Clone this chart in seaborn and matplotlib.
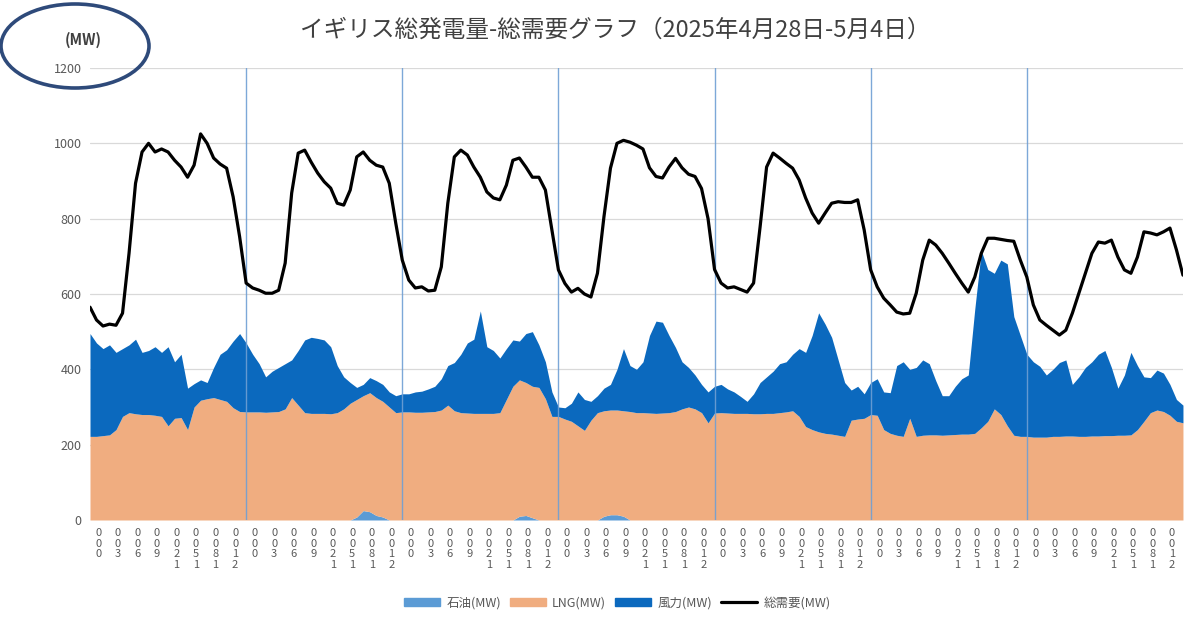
"""
UK generation vs total demand, 2025-04-28 .. 2025-05-04 (hourly).
Stacked areas for oil / LNG / wind, black line for total demand.
"""

import numpy as np
import pandas as pd
import matplotlib
matplotlib.use('Agg')
import matplotlib.pyplot as plt
from matplotlib.patches import Ellipse, Patch
from matplotlib.lines import Line2D
import seaborn as sns

TITLE = 'イギリス総発電量-総需要グラフ（2025年4月28日-5月4日）'
UNIT = '(MW)'

# hourly values, one row per day (00:00 .. 23:00), last row also has 5/5 00:00
demand = [
    565, 531, 515, 520, 517, 549, 708, 894, 977, 1000, 977, 985, 977, 955, 937, 910, 942, 1025, 1000, 961, 945, 934, 858, 752,
    629, 616, 610, 602, 602, 610, 682, 868, 974, 982, 950, 921, 898, 881, 841, 836, 876, 964, 977, 955, 942, 937, 894, 788,
    690, 637, 616, 619, 608, 610, 672, 841, 964, 982, 969, 937, 910, 871, 855, 850, 889, 955, 961, 937, 910, 910, 876, 770,
    664, 628, 605, 615, 600, 592, 655, 805, 934, 1000, 1008, 1003, 995, 985, 935, 912, 908, 937, 960, 935, 918, 912, 880, 800,
    665, 629, 616, 619, 612, 605, 629, 778, 937, 974, 961, 947, 934, 903, 855, 815, 788, 815, 841, 845, 843, 843, 850, 770,
    664, 619, 589, 571, 552, 547, 549, 602, 690, 743, 730, 708, 682, 655, 629, 605, 645, 708, 748, 748, 745, 742, 740, 690,
    645, 571, 531, 517, 504, 491, 504, 549, 602, 655, 708, 738, 735, 743, 698, 664, 655, 698, 765, 762, 757, 765, 775, 717, 650,
]

oil = [
    0, 0, 0, 0, 0, 0, 0, 0, 0, 0, 0, 0, 0, 0, 0, 0, 0, 0, 0, 0, 0, 0, 0, 0,
    0, 0, 0, 0, 0, 0, 0, 0, 0, 0, 0, 0, 0, 0, 0, 0, 0, 8, 25, 22, 12, 8, 0, 0,
    0, 0, 0, 0, 0, 0, 0, 0, 0, 0, 0, 0, 0, 0, 0, 0, 0, 0, 10, 12, 6, 0, 0, 0,
    0, 0, 0, 0, 0, 0, 0, 10, 14, 14, 10, 0, 0, 0, 0, 0, 0, 0, 0, 0, 0, 0, 0, 0,
    0, 0, 0, 0, 0, 0, 0, 0, 0, 0, 0, 0, 0, 0, 0, 0, 0, 0, 0, 0, 0, 0, 0, 0,
    0, 0, 0, 0, 0, 0, 0, 0, 0, 0, 0, 0, 0, 0, 0, 0, 0, 0, 0, 0, 0, 0, 0, 0,
    0, 0, 0, 0, 0, 0, 0, 0, 0, 0, 0, 0, 0, 0, 0, 0, 0, 0, 0, 0, 0, 0, 0, 0, 0,
]

lng = [
    222, 222, 224, 226, 240, 275, 285, 282, 280, 280, 278, 275, 250, 270, 272, 240, 300, 318, 322, 325, 320, 315, 298, 288,
    287, 287, 287, 286, 287, 288, 295, 325, 305, 285, 283, 283, 283, 282, 285, 295, 310, 312, 305, 316, 313, 307, 300, 285,
    287, 287, 286, 286, 287, 288, 292, 305, 290, 285, 284, 283, 283, 283, 283, 285, 320, 355, 362, 353, 349, 352, 322, 275,
    275, 268, 262, 250, 238, 265, 285, 280, 278, 278, 280, 288, 285, 285, 284, 283, 284, 285, 288, 295, 300, 295, 285, 258,
    284, 285, 284, 283, 283, 283, 282, 282, 283, 283, 285, 287, 290, 275, 248, 240, 234, 230, 228, 225, 222, 265, 268, 270,
    280, 278, 240, 230, 225, 222, 270, 222, 225, 226, 226, 225, 226, 227, 228, 228, 230, 245, 262, 295, 280, 250, 225, 222,
    222, 220, 220, 220, 222, 222, 223, 223, 222, 222, 223, 223, 224, 224, 225, 225, 226, 240, 262, 285, 292, 288, 278, 262, 258,
]

wind = [
    273, 248, 231, 239, 205, 180, 180, 198, 165, 170, 182, 170, 210, 150, 168, 110, 62, 54, 43, 80, 120, 137, 177, 207,
    183, 153, 128, 94, 108, 117, 120, 100, 145, 193, 202, 199, 195, 178, 125, 85, 55, 32, 30, 40, 45, 45, 40, 45,
    48, 48, 54, 56, 61, 67, 83, 105, 128, 155, 186, 197, 272, 177, 167, 145, 135, 123, 103, 130, 145, 113, 98, 65,
    25, 30, 48, 90, 82, 50, 45, 60, 68, 108, 165, 122, 115, 135, 206, 245, 241, 205, 170, 125, 105, 90, 75, 82,
    71, 75, 64, 57, 45, 32, 53, 83, 97, 112, 130, 133, 150, 180, 197, 250, 316, 290, 257, 200, 143, 80, 87, 65,
    85, 97, 100, 108, 185, 198, 130, 183, 200, 189, 144, 105, 104, 128, 147, 157, 330, 470, 403, 360, 410, 430, 315, 268,
    218, 200, 188, 165, 178, 196, 202, 137, 158, 183, 197, 217, 226, 181, 125, 160, 219, 170, 118, 93, 106, 102, 82, 58, 47,
]

n_days = 7
label_hours = [0, 3, 6, 9, 12, 15, 18, 21]
series_names = ['石油(MW)', 'LNG(MW)', '風力(MW)', '総需要(MW)']
y_ticks = [0, 200, 400, 600, 800, 1000, 1200]

COLORS = {'oil': '#5B9BD5', 'lng': '#F0AD80', 'wind': '#0B69BE', 'demand': 'black'}
GRAY = '#595959'


def stacked_label(hour):
    # labels read bottom-to-top, one character per row (e.g. 1200 -> 0/0/2/1)
    return '\n'.join(reversed(f'{hour}00'))


def main():
    sns.set_theme(style='white')
    plt.rcParams['font.family'] = ['Noto Sans CJK JP', 'DejaVu Sans']

    df = pd.DataFrame({'demand': demand, 'oil': oil, 'lng': lng, 'wind': wind})
    df['hour'] = np.arange(len(df))

    fig = plt.figure(figsize=(12, 6.29), dpi=100)
    ax = fig.add_axes([0.075, 0.1733, 0.9108, 0.7186])

    ax.stackplot(df['hour'], df['oil'], df['lng'], df['wind'],
                 colors=[COLORS['oil'], COLORS['lng'], COLORS['wind']],
                 linewidth=0, zorder=2)

    # day separators
    for d in range(1, n_days):
        ax.axvline(d * 24, color='#6F9FD4', linewidth=1.0, alpha=0.9, zorder=3)

    sns.lineplot(data=df, x='hour', y='demand', color=COLORS['demand'],
                 linewidth=2.3, ax=ax, legend=False, zorder=4)

    ax.set_xlim(0, 24 * n_days)
    ax.set_ylim(0, 1200)
    ax.set_yticks(y_ticks)
    ax.set_yticklabels([str(v) for v in y_ticks], fontsize=9, color=GRAY)
    ax.yaxis.grid(True, color='#D9D9D9', linewidth=0.9, zorder=0)
    ax.set_axisbelow(True)

    xt, xl = [], []
    for d in range(n_days):
        for h in label_hours:
            xt.append(d * 24 + h + 1.3)
            xl.append(stacked_label(h))
    ax.set_xticks(xt)
    ax.set_xticklabels(xl, fontsize=8, color=GRAY, va='top')
    for lbl in ax.get_xticklabels():
        lbl.set_linespacing(1.05)

    ax.tick_params(axis='both', length=0)
    ax.tick_params(axis='x', pad=6)
    ax.tick_params(axis='y', pad=6)
    ax.set_xlabel('')
    ax.set_ylabel('')
    for s in ax.spines.values():
        s.set_visible(False)

    fig.text(0.5125, 1 - 30 / 629, TITLE, ha='center', va='center',
             fontsize=17, color='#404040')
    fig.text(83 / 1200, 1 - 40 / 629, UNIT, ha='center', va='center',
             fontsize=10.5, fontweight='bold', color='#404040')
    fig.add_artist(Ellipse((75 / 1200, 1 - 46 / 629), 148 / 1200, 84 / 629,
                           transform=fig.transFigure, fill=False,
                           edgecolor='#2E4A7A', linewidth=2.6))

    handles = [Patch(color=COLORS['oil']), Patch(color=COLORS['lng']),
               Patch(color=COLORS['wind']),
               Line2D([], [], color=COLORS['demand'], linewidth=2.3)]
    fig.legend(handles, series_names, loc='center',
               bbox_to_anchor=(617 / 1200, 1 - 603 / 629), ncol=4,
               frameon=False, fontsize=9, labelcolor=GRAY,
               handlelength=2.9, handleheight=0.6, handletextpad=0.5,
               columnspacing=0.7)

    fig.savefig('out.png', dpi=100)
    plt.close(fig)


if __name__ == '__main__':
    main()
